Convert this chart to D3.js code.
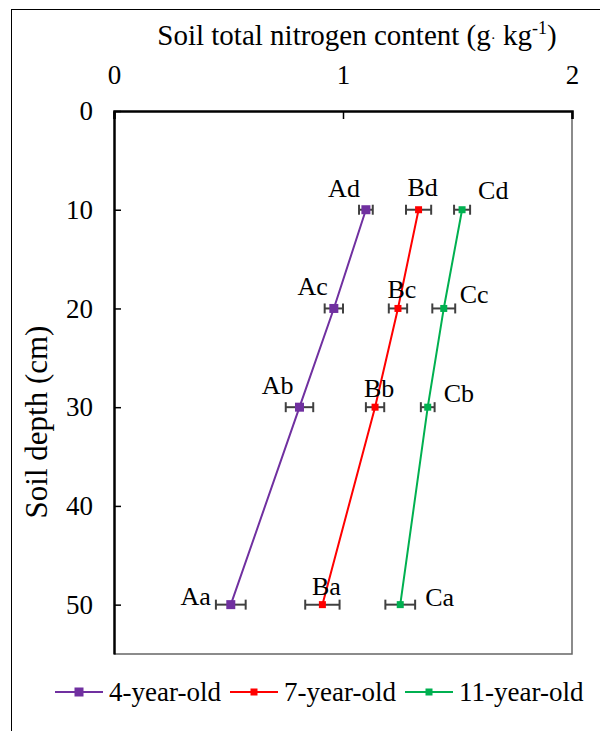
<!DOCTYPE html>
<meta charset="utf-8">
<title>Soil total nitrogen</title>
<style>
body { margin: 0; background: #fff; }
</style>
<body>
<script src="https://d3js.org/d3.v7.min.js"></script>
<script>

// data
var depths = [10, 20, 30, 50];
var seriesNames = ["4-year-old", "7-year-old", "11-year-old"];
var seriesKeys = ["A", "B", "C"];
var seriesColors = ["#7030A0", "#FF0000", "#00B050"];
var nitrogen4 = [1.10, 0.96, 0.81, 0.51];
var nitrogen7 = [1.33, 1.24, 1.14, 0.91];
var nitrogen11 = [1.52, 1.44, 1.37, 1.25];
var err4 = [0.03, 0.04, 0.06, 0.065];
var err7 = [0.055, 0.04, 0.04, 0.075];
var err11 = [0.035, 0.05, 0.03, 0.065];
var letters = ["d", "c", "b", "a"];
var xTicks = [0, 1, 2];
var yTicks = [0, 10, 20, 30, 40, 50];

var values = [nitrogen4, nitrogen7, nitrogen11];
var errors = [err4, err7, err11];

var serif = "'Liberation Serif', 'Times New Roman', 'DejaVu Serif', serif";
var W = 600, H = 731;
var pLeft = 114, pRight = 572, pTop = 111, pBottom = 654;

var x = d3.scaleLinear().domain([0, 2]).range([pLeft, pRight]);
var y = d3.scaleLinear().domain([0, 55]).range([pTop, pBottom]);

var svg = d3.select("body").append("svg")
    .attr("width", W)
    .attr("height", H)
    .style("font-family", serif);

// outer frame
svg.append("rect")
    .attr("x", 11.5).attr("y", 9.5)
    .attr("width", 700).attr("height", 800)
    .attr("fill", "none")
    .attr("stroke", "#000")
    .attr("stroke-width", 1);

// plot frame (right and bottom)
svg.append("path")
    .attr("d", "M" + pRight + "," + pTop + "V" + pBottom + "H" + pLeft)
    .attr("fill", "none")
    .attr("stroke", "#666")
    .attr("stroke-width", 1.5);

// top axis
var xAxis = d3.axisTop(x).tickValues(xTicks).tickSize(-8).tickSizeOuter(-8).tickPadding(27)
    .tickFormat(d3.format("d"));
var gx = svg.append("g")
    .attr("transform", "translate(0," + pTop + ")")
    .call(xAxis);
gx.select(".domain").attr("stroke", "#000").attr("stroke-width", 2.5);
gx.selectAll(".tick line").attr("stroke", "#000").attr("stroke-width", 1.5);
gx.selectAll(".tick text")
    .attr("font-size", 27)
    .style("font-family", serif);

// left axis
var yAxis = d3.axisLeft(y).tickValues(yTicks).tickSize(-7).tickSizeOuter(0).tickPadding(21);
var gy = svg.append("g")
    .attr("transform", "translate(" + pLeft + ",0)")
    .call(yAxis);
gy.select(".domain").attr("stroke", "#000").attr("stroke-width", 2.5);
gy.selectAll(".tick line").attr("stroke", "#000").attr("stroke-width", 1.5);
gy.selectAll(".tick text")
    .attr("font-size", 27)
    .style("font-family", serif);

// title
var title = svg.append("text")
    .attr("x", 357).attr("y", 45)
    .attr("text-anchor", "middle")
    .attr("font-size", 29)
    .style("font-family", serif);
title.append("tspan").text("Soil total nitrogen content (g");
title.append("tspan").attr("font-size", 15).attr("dy", -2).text("·");
title.append("tspan").attr("dy", 2).text(" kg");
title.append("tspan").attr("font-size", 18).attr("dy", -11).text("-1");
title.append("tspan").attr("dy", 11).text(")");

// y label
svg.append("text")
    .attr("transform", "translate(47,422) rotate(-90)")
    .attr("text-anchor", "middle")
    .attr("font-size", 31)
    .style("font-family", serif)
    .text("Soil depth (cm)");

var line = d3.line()
    .x(function(d) { return x(d.v); })
    .y(function(d) { return y(d.depth); });

var markerSize = [9, 7, 7];

function labelX(s, d) {
  var px = x(d.v);
  if (s === 0) return d.depth === 50 ? px - 20 : px - 6;
  if (s === 1) return px + 4;
  return d.depth === 50 ? px + 25 : px + 16;
}
function labelY(s, d) {
  var py = y(d.depth);
  if (s === 0) return d.depth === 50 ? py : py - 13;
  if (s === 1) return d.depth === 10 ? py - 14 : py - 10;
  if (d.depth === 10) return py - 11;
  return d.depth === 50 ? py + 1 : py - 5;
}

seriesNames.forEach(function(name, s) {
  var pts = depths.map(function(dp, i) {
    return { depth: dp, v: values[s][i], e: errors[s][i], label: seriesKeys[s] + letters[i] };
  });
  var g = svg.append("g");

  g.append("path")
      .datum(pts)
      .attr("d", line)
      .attr("fill", "none")
      .attr("stroke", seriesColors[s])
      .attr("stroke-width", 2);

  // error bars
  var eb = g.selectAll(".err").data(pts).enter().append("g").attr("class", "err");
  eb.append("line")
      .attr("x1", function(d) { return x(d.v - d.e); })
      .attr("x2", function(d) { return x(d.v + d.e); })
      .attr("y1", function(d) { return y(d.depth); })
      .attr("y2", function(d) { return y(d.depth); });
  eb.append("line")
      .attr("x1", function(d) { return x(d.v - d.e); })
      .attr("x2", function(d) { return x(d.v - d.e); })
      .attr("y1", function(d) { return y(d.depth) - 5; })
      .attr("y2", function(d) { return y(d.depth) + 5; });
  eb.append("line")
      .attr("x1", function(d) { return x(d.v + d.e); })
      .attr("x2", function(d) { return x(d.v + d.e); })
      .attr("y1", function(d) { return y(d.depth) - 5; })
      .attr("y2", function(d) { return y(d.depth) + 5; });
  eb.selectAll("line").attr("stroke", "#404040").attr("stroke-width", 2);

  var m = markerSize[s];
  g.selectAll(".pt").data(pts).enter().append("rect")
      .attr("x", function(d) { return x(d.v) - m / 2; })
      .attr("y", function(d) { return y(d.depth) - m / 2; })
      .attr("width", m).attr("height", m)
      .attr("fill", seriesColors[s]);

  // significance letters
  g.selectAll(".lab").data(pts).enter().append("text")
      .attr("font-size", 26)
      .style("font-family", serif)
      .attr("text-anchor", s === 0 ? "end" : (s === 1 ? "middle" : "start"))
      .attr("x", function(d) { return labelX(s, d); })
      .attr("y", function(d) { return labelY(s, d); })
      .text(function(d) { return d.label; });
});

// legend
var legendX = [55, 230, 405];
var legend = svg.selectAll(".legend")
    .data(seriesNames)
  .enter().append("g")
    .attr("class", "legend")
    .attr("transform", function(d, i) { return "translate(" + legendX[i] + ",692)"; });

legend.append("line")
    .attr("x1", 0).attr("x2", 48)
    .attr("stroke", function(d, i) { return seriesColors[i]; })
    .attr("stroke-width", 2);
legend.append("rect")
    .attr("x", function(d, i) { return 24 - markerSize[i] / 2; })
    .attr("y", function(d, i) { return -markerSize[i] / 2; })
    .attr("width", function(d, i) { return markerSize[i]; })
    .attr("height", function(d, i) { return markerSize[i]; })
    .attr("fill", function(d, i) { return seriesColors[i]; });
legend.append("text")
    .attr("x", 54)
    .attr("y", 9)
    .attr("font-size", 27)
    .style("font-family", serif)
    .text(function(d) { return d; });

</script>
</body>
